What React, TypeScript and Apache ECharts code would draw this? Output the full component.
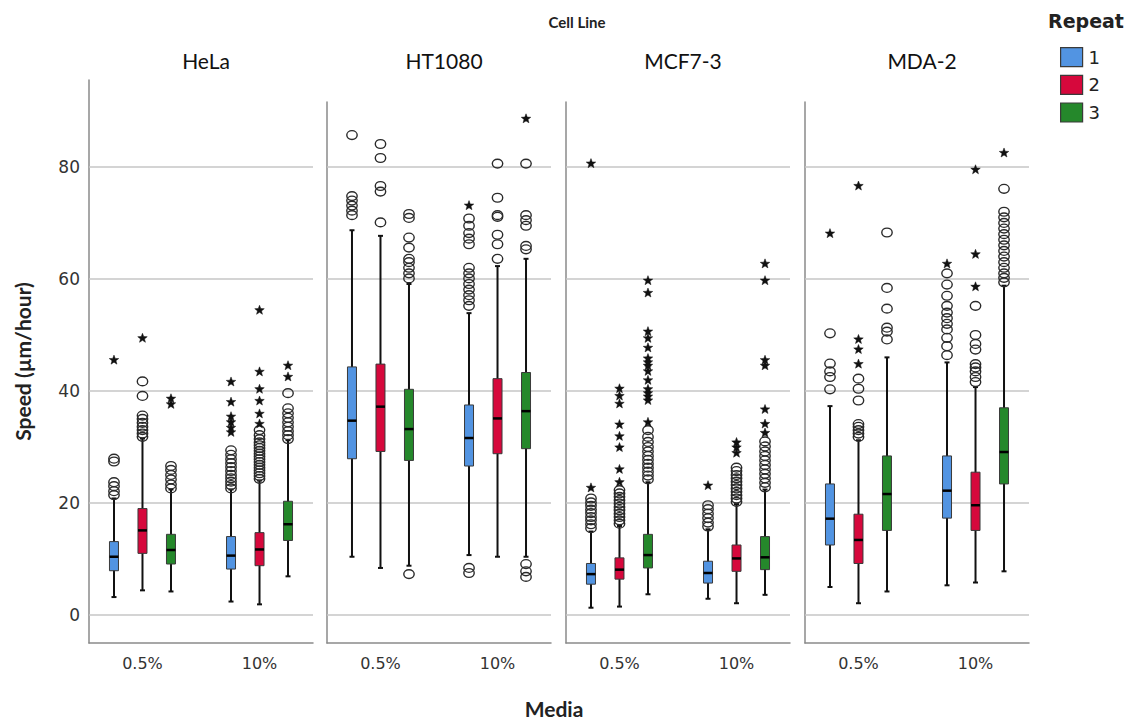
import React, { useEffect, useRef } from 'react';
import * as echarts from 'echarts';

const cellLines = ['HeLa', 'HT1080', 'MCF7-3', 'MDA-2'];
const media = ['0.5%', '10%'];
const repeats = ['1', '2', '3'];
const repeatColors = ['#5294e2', '#d6083c', '#25882b'];
const yTicks = [0, 20, 40, 60, 80];

// box rows: [mediaIndex, repeatIndex, whiskerLow, q1, median, q3, whiskerHigh]
const helaBoxes = [
  [0, 0, 3.2, 7.9, 10.4, 13.1, 20.8],
  [0, 1, 4.4, 11.0, 15.1, 19.0, 31.5],
  [0, 2, 4.2, 9.1, 11.6, 14.4, 22.4],
  [1, 0, 2.4, 8.2, 10.6, 14.0, 22.4],
  [1, 1, 1.9, 8.8, 11.7, 14.7, 24.0],
  [1, 2, 6.9, 13.3, 16.2, 20.3, 31.2],
];
const ht1080Boxes = [
  [0, 0, 10.4, 27.9, 34.7, 44.3, 68.7],
  [0, 1, 8.4, 29.2, 37.2, 44.8, 67.7],
  [0, 2, 8.8, 27.6, 33.2, 40.3, 59.1],
  [1, 0, 10.7, 26.6, 31.6, 37.5, 53.9],
  [1, 1, 10.4, 28.8, 35.1, 42.2, 62.3],
  [1, 2, 10.4, 29.7, 36.4, 43.3, 63.6],
];
const mcf7Boxes = [
  [0, 0, 1.3, 5.5, 7.3, 9.2, 14.9],
  [0, 1, 1.5, 6.4, 8.1, 10.2, 15.9],
  [0, 2, 3.7, 8.4, 10.7, 14.4, 23.7],
  [1, 0, 2.9, 5.7, 7.5, 9.6, 15.3],
  [1, 1, 2.1, 7.8, 10.1, 12.5, 19.8],
  [1, 2, 3.6, 8.1, 10.3, 14.0, 22.4],
];
const mdaBoxes = [
  [0, 0, 5.0, 12.5, 17.2, 23.4, 37.3],
  [0, 1, 2.1, 9.2, 13.4, 18.0, 31.2],
  [0, 2, 4.2, 15.1, 21.6, 28.4, 46.0],
  [1, 0, 5.3, 17.3, 22.2, 28.4, 45.1],
  [1, 1, 5.8, 15.1, 19.6, 25.5, 40.7],
  [1, 2, 7.8, 23.4, 29.1, 37.0, 58.8],
];

// outliers: [media][repeat] -> values
const helaCircles = [
  [[21.4, 22.1, 23.0, 23.7, 27.4, 27.9], [31.8, 32.4, 33.0, 33.6, 34.3, 35.0, 35.6, 39.1, 41.7], [22.6, 23.3, 24.2, 25.0, 25.9, 26.6]],
  [[22.6, 23.2, 23.8, 24.4, 25.0, 25.7, 26.4, 27.1, 27.8, 28.6, 29.4],
   [24.3, 24.8, 25.3, 25.8, 26.3, 26.8, 27.3, 27.8, 28.3, 28.8, 29.3, 29.8, 30.3, 30.8, 31.4, 32.1, 33.0],
   [31.4, 32.1, 32.8, 33.6, 34.4, 35.2, 36.0, 36.9, 39.6]],
];
const helaStars = [
  [[45.5], [49.4], [37.6, 38.6]],
  [[32.6, 33.4, 34.4, 35.4, 38.0, 41.6], [34.1, 35.9, 38.2, 40.3, 43.4, 54.4], [42.5, 44.5]],
];
const ht1080Circles = [
  [[71.4, 72.2, 73.1, 74.0, 74.8, 85.7], [70.1, 75.6, 76.6, 81.6, 84.1], [7.3, 60.1, 61.0, 62.0, 63.0, 63.6, 65.6, 67.4, 70.9, 71.6]],
  [[7.5, 8.4, 55.2, 56.2, 57.1, 58.1, 59.1, 60.1, 61.0, 62.0, 66.2, 67.2, 68.2, 69.5, 70.8],
   [63.6, 66.2, 67.9, 71.1, 71.4, 74.5, 80.6],
   [6.8, 7.8, 9.1, 65.3, 65.9, 69.5, 70.5, 71.4, 80.6]],
];
const ht1080Stars = [
  [[], [], []],
  [[73.1], [], [88.6]],
];
const mcf7Circles = [
  [[15.5, 16.2, 16.9, 17.5, 18.2, 18.8, 19.5, 20.1, 20.8],
   [16.3, 16.9, 17.5, 18.1, 18.7, 19.3, 19.9, 20.5, 21.1, 21.7, 22.3],
   [24.2, 24.9, 25.6, 26.3, 27.0, 27.7, 28.4, 29.2, 30.0, 30.9, 31.8, 33.0]],
  [[15.8, 16.5, 17.3, 18.1, 18.9, 19.6],
   [20.2, 20.8, 21.4, 22.0, 22.6, 23.2, 23.8, 24.4, 25.0, 25.7, 26.3],
   [22.8, 23.6, 24.4, 25.2, 26.0, 26.8, 27.6, 28.4, 29.2, 30.1, 31.0]],
];
const mcf7Stars = [
  [[22.7, 80.6],
   [23.7, 26.0, 29.9, 31.9, 34.0, 37.7, 39.1, 40.4],
   [34.4, 38.3, 39.0, 39.6, 40.3, 41.9, 43.5, 44.5, 45.1, 45.8, 47.7, 49.4, 50.6, 57.5, 59.7]],
  [[23.1], [28.9, 29.9, 30.8], [32.5, 34.1, 36.7, 44.5, 45.5, 59.7, 62.7]],
];
const mdaCircles = [
  [[40.3, 42.5, 43.5, 44.9, 50.3], [31.8, 32.4, 33.0, 33.6, 34.1, 38.3, 40.4, 42.2], [49.2, 50.6, 51.3, 54.7, 58.4, 68.3]],
  [[46.4, 48.0, 49.5, 51.0, 52.0, 53.0, 54.0, 55.2, 57.0, 59.0, 61.0],
   [41.6, 42.5, 43.5, 44.2, 44.8, 47.4, 48.4, 50.0, 55.2],
   [59.4, 60.2, 61.0, 62.0, 63.0, 64.0, 65.0, 66.0, 67.0, 68.0, 69.0, 70.0, 71.0, 72.0, 76.1]],
];
const mdaStars = [
  [[68.1], [44.8, 47.4, 49.2, 76.6], []],
  [[62.7], [58.6, 64.4, 79.5], [82.5]],
];

const panelBoxes = [helaBoxes, ht1080Boxes, mcf7Boxes, mdaBoxes];
const panelCircles = [helaCircles, ht1080Circles, mcf7Circles, mdaCircles];
const panelStars = [helaStars, ht1080Stars, mcf7Stars, mdaStars];

// layout
const gridLefts = [89, 327, 566, 805];
const gridTops = [80, 102, 102, 102];
const gridWidth = 224;
const gridBottomY = 643;
const yMaxs = [95.5, 91.6, 91.6, 91.6];
const repeatOffsets = [-28.5, 0, 28.5];

const starPoints = (cx: number, cy: number, R: number, r: number) => {
  const pts: number[][] = [];
  for (let i = 0; i < 10; i++) {
    const rad = i % 2 === 0 ? R : r;
    const a = -Math.PI / 2 + (i * Math.PI) / 5;
    pts.push([cx + rad * Math.cos(a), cy + rad * Math.sin(a)]);
  }
  return pts;
};

export default function App() {
  const ref = useRef<HTMLDivElement>(null);
  useEffect(() => {
    if (!ref.current) return;
    const chart = echarts.init(ref.current, undefined, { renderer: 'svg' });

    const grids = cellLines.map((_, p) => ({
      left: gridLefts[p],
      top: gridTops[p],
      width: gridWidth,
      height: gridBottomY - gridTops[p],
      containLabel: false,
    }));

    const xAxes = cellLines.map((_, p) => ({
      type: 'value',
      gridIndex: p,
      min: -0.457,
      max: 1.457,
      axisLine: { show: true, onZero: false, lineStyle: { color: '#8a8a8a', width: 1.5 } },
      axisTick: { show: false },
      splitLine: { show: false },
      axisLabel: {
        customValues: [0, 1],
        formatter: (v: number) => media[Math.round(v)] ?? '',
        color: '#333',
        fontFamily: 'DejaVu Sans',
        fontSize: 16,
        margin: 12,
      },
    }));

    const yAxes = cellLines.map((_, p) => ({
      type: 'value',
      gridIndex: p,
      min: -5,
      max: yMaxs[p],
      axisLine: { show: true, onZero: false, lineStyle: { color: '#8a8a8a', width: 1.5 } },
      axisTick: { show: false },
      splitLine: { show: false },
      axisLabel: {
        show: p === 0,
        customValues: yTicks,
        color: '#333',
        fontFamily: 'DejaVu Sans',
        fontSize: 17,
        margin: 9,
      },
      name: p === 0 ? 'Speed (µm/hour)' : '',
      nameLocation: 'middle',
      nameGap: 56,
      nameTextStyle: { fontFamily: 'Lato', fontWeight: 'bold', fontSize: 21, color: '#222' },
    }));

    const series: any[] = [];
    cellLines.forEach((_, p) => {
      series.push({
        type: 'line',
        name: 'grid' + p,
        xAxisIndex: p,
        yAxisIndex: p,
        data: [],
        silent: true,
        markLine: {
          silent: true,
          symbol: ['none', 'none'],
          label: { show: false },
          z: 1,
          lineStyle: { color: '#c6c6c6', width: 1.5, type: 'solid' },
          data: yTicks.map((v) => ({ yAxis: v })),
        },
      });
      repeats.forEach((rName, r) => {
        const data = panelBoxes[p]
          .filter((row) => row[1] === r)
          .map((row) => [row[0], row[2], row[3], row[4], row[5], row[6]]);
        const off = repeatOffsets[r];
        series.push({
          type: 'custom',
          name: rName,
          xAxisIndex: p,
          yAxisIndex: p,
          z: 3,
          itemStyle: { color: repeatColors[r], borderColor: '#3a3a3a', borderWidth: 1 },
          encode: { x: 0, y: [1, 2, 3, 4, 5] },
          data,
          renderItem: (params: any, api: any) => {
            const x = api.value(0);
            const lo = api.coord([x, api.value(1)]);
            const q1 = api.coord([x, api.value(2)]);
            const md = api.coord([x, api.value(3)]);
            const q3 = api.coord([x, api.value(4)]);
            const hi = api.coord([x, api.value(5)]);
            const cx = lo[0] + off;
            const hw = 4.5;
            return {
              type: 'group',
              children: [
                { type: 'line', shape: { x1: cx, y1: hi[1], x2: cx, y2: lo[1] }, style: { stroke: '#111', lineWidth: 2 } },
                { type: 'line', shape: { x1: cx - 2.5, y1: hi[1], x2: cx + 2.5, y2: hi[1] }, style: { stroke: '#111', lineWidth: 2 } },
                { type: 'line', shape: { x1: cx - 2.5, y1: lo[1], x2: cx + 2.5, y2: lo[1] }, style: { stroke: '#111', lineWidth: 2 } },
                {
                  type: 'rect',
                  shape: { x: cx - hw, y: q3[1], width: hw * 2, height: q1[1] - q3[1] },
                  style: { fill: repeatColors[r], stroke: '#3a3a3a', lineWidth: 1 },
                },
                { type: 'line', shape: { x1: cx - hw, y1: md[1], x2: cx + hw, y2: md[1] }, style: { stroke: '#000', lineWidth: 2.5 } },
              ],
            };
          },
        });
      });
      const outliers: number[][] = [];
      media.forEach((_, m) => {
        repeats.forEach((__, r) => {
          panelCircles[p][m][r].forEach((v) => outliers.push([m, v, r, 0]));
          panelStars[p][m][r].forEach((v) => outliers.push([m, v, r, 1]));
        });
      });
      series.push({
        type: 'custom',
        name: 'outliers' + p,
        xAxisIndex: p,
        yAxisIndex: p,
        z: 4,
        encode: { x: 0, y: 1 },
        data: outliers,
        renderItem: (params: any, api: any) => {
          const pt = api.coord([api.value(0), api.value(1)]);
          const cx = pt[0] + repeatOffsets[api.value(2)];
          const cy = pt[1];
          if (api.value(3) === 0) {
            return {
              type: 'ellipse',
              shape: { cx, cy, rx: 5.2, ry: 4.4 },
              style: { fill: 'rgba(255,255,255,0)', stroke: '#2a2a2a', lineWidth: 1.4 },
            };
          }
          return {
            type: 'polygon',
            shape: { points: starPoints(cx, cy, 5, 2.1) },
            style: { fill: '#111', stroke: '#111', lineWidth: 0.5 },
          };
        },
      });
    });

    const titles: any[] = [
      { text: 'Cell Line', left: 572, top: 9, textAlign: 'center', textStyle: { fontFamily: 'Lato', fontWeight: 'bold', fontSize: 15, color: '#222' } },
      { text: 'Media', left: 549, top: 693, textAlign: 'center', textStyle: { fontFamily: 'Lato', fontWeight: 'bold', fontSize: 21, color: '#222' } },
      { text: 'Repeat', left: 1081, top: 6, textAlign: 'center', textStyle: { fontFamily: 'DejaVu Sans', fontWeight: 'bold', fontSize: 19, color: '#222' } },
    ];
    cellLines.forEach((name, p) => {
      titles.push({
        text: name,
        left: gridLefts[p] + gridWidth / 2,
        top: 45,
        textAlign: 'center',
        textStyle: { fontFamily: 'Lato', fontWeight: 'normal', fontSize: 21, color: '#111' },
      });
    });

    chart.setOption({
      animation: false,
      backgroundColor: '#ffffff',
      title: titles,
      legend: {
        data: repeats,
        orient: 'vertical',
        left: 1055,
        top: 42,
        icon: 'rect',
        itemWidth: 22,
        itemHeight: 19,
        itemGap: 7.5,
        selectedMode: false,
        itemStyle: { borderColor: '#3a3a3a', borderWidth: 1.2 },
        textStyle: { fontFamily: 'DejaVu Sans', fontSize: 18, color: '#222', padding: [0, 0, 0, 1] },
      },
      grid: grids,
      xAxis: xAxes,
      yAxis: yAxes,
      series,
    });
    return () => chart.dispose();
  }, []);
  return <div ref={ref} style={{ position: 'absolute', left: 0, top: 0, width: 1130, height: 724 }} />;
}
